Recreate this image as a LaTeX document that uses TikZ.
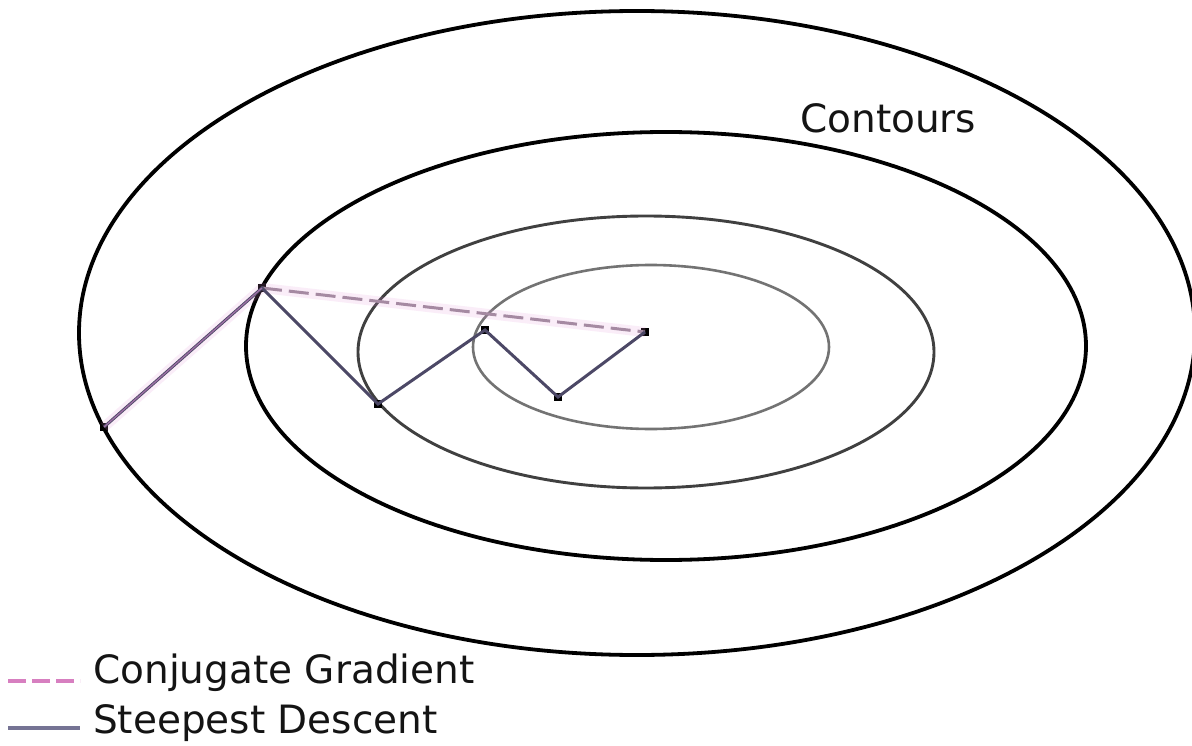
\documentclass[tikz,border=0pt]{standalone}
\usepackage{fontspec}
\setmainfont{DejaVu Sans}
\begin{document}
\begin{tikzpicture}[x=1pt,y=-1pt,
  contour/.style={line width=3.8pt,draw=black},
  contourmid/.style={line width=2.9pt,draw=black!75},
  contourin/.style={line width=2.6pt,draw=black!55},
  ptmark/.style={rectangle,fill=black,minimum size=8.5pt,inner sep=0pt},
  sdline/.style={line width=3pt,draw=sdcol,line join=miter},
  cghalo/.style={line width=10pt,draw=cgpink,opacity=0.16},
  cgline/.style={line width=3pt,draw=cgcol,dash pattern=on 20pt off 7pt},
  lbl/.style={font=\fontsize{39}{41}\selectfont,text=black!92,inner sep=0pt,anchor=base west}]
\definecolor{sdcol}{HTML}{4C4866}
\definecolor{cgcol}{HTML}{A58AA2}
\definecolor{cgpink}{HTML}{E090D8}
\definecolor{cglegend}{HTML}{D77FC0}
\definecolor{sdlegend}{HTML}{757394}
\useasboundingbox (0,0) rectangle (1192,746);
\fill[white] (0,0) rectangle (1192,746);
\clip (0,0) rectangle (1192,746);
% contours
\draw[contour] (637,333) ellipse [x radius=558pt, y radius=322pt];
\draw[contour] (666,346) ellipse [x radius=420pt, y radius=214pt];
\draw[contourmid] (646,352) ellipse [x radius=288pt, y radius=136pt];
\draw[contourin] (651,347) ellipse [x radius=178pt, y radius=82pt];
% iterates
\node[ptmark] (A) at (104,427) {};
\node[ptmark] (B) at (262,288) {};
\node[ptmark] (C) at (378,404) {};
\node[ptmark] (D) at (485,330) {};
\node[ptmark] (E) at (558,397) {};
\node[ptmark] (F) at (645,332) {};
% halos
\draw[cghalo] (A.center) -- (B.center) -- (F.center);
% conjugate gradient
\draw[cgline] (B.center) -- (F.center);
% steepest descent
\draw[sdline] (A.center) -- (B.center) -- (C.center) -- (D.center) -- (E.center) -- (F.center);
\draw[line width=1.3pt,draw=cgpink,opacity=0.55] (A.center) -- (B.center);
% labels
\node[lbl] (contours) at (800,133) {Contours};
\coordinate (cg1) at (8,681);
\coordinate (cg2) at (80,681);
\coordinate (sd1) at (8,728);
\coordinate (sd2) at (80,728);
\draw[line width=3.5pt,draw=cglegend,dash pattern=on 18pt off 6pt] (cg1) -- (cg2);
\draw[line width=4pt,draw=sdlegend] (sd1) -- (sd2);
\node[lbl] (cgtext) at (93,683) {Conjugate Gradient};
\node[lbl] (sdtext) at (93,733) {Steepest Descent};
\end{tikzpicture}
\end{document}
